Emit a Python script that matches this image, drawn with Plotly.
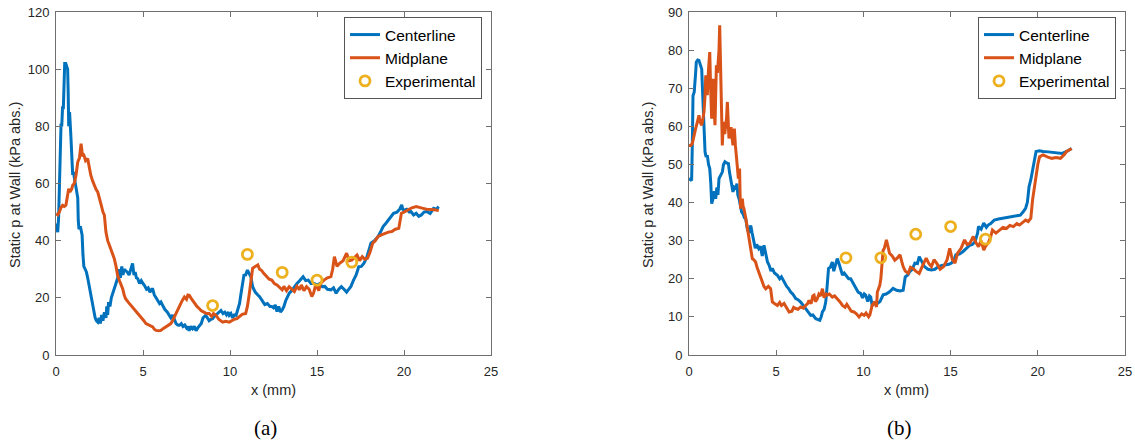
import plotly.graph_objects as go

# ---------------- data: panel (a) ----------------
a_center_x = [0.00,0.05,0.10,0.15,0.20,0.25,0.29,0.33,0.38,0.42,0.46,0.50,0.56,0.62,0.67,0.70,0.73,0.78,0.82,0.86,0.92,0.96,1.00,1.05,1.10,1.18,1.25,1.28,1.32,1.40,1.45,1.50,1.55,1.60,1.68,1.75,1.82,1.88,1.92,2.00,2.10,2.18,2.25,2.32,2.40,2.48,2.55,2.62,2.70,2.78,2.87,2.92,2.97,3.02,3.10,3.18,3.28,3.35,3.45,3.55,3.64,3.70,3.78,3.85,3.92,4.00,4.10,4.20,4.30,4.40,4.48,4.55,4.62,4.70,4.80,4.90,5.00,5.08,5.20,5.30,5.40,5.50,5.56,5.65,5.75,5.85,5.95,6.03,6.15,6.25,6.40,6.50,6.60,6.70,6.80,6.90,7.00,7.10,7.20,7.30,7.40,7.50,7.57,7.65,7.75,7.85,7.95,8.05,8.15,8.24,8.35,8.45,8.55,8.60,8.70,8.80,8.90,9.00,9.10,9.20,9.30,9.40,9.48,9.60,9.70,9.80,9.90,9.96,10.05,10.15,10.25,10.35,10.45,10.55,10.62,10.70,10.80,10.90,11.00,11.10,11.20,11.30,11.45,11.60,11.70,11.85,12.00,12.15,12.30,12.40,12.50,12.60,12.70,12.80,12.90,13.00,13.10,13.20,13.30,13.40,13.55,13.70,13.85,14.00,14.20,14.35,14.50,14.65,14.80,15.00,15.15,15.30,15.45,15.60,15.80,15.95,16.10,16.25,16.40,16.55,16.70,16.80,16.95,17.10,17.25,17.40,17.55,17.70,17.85,18.00,18.10,18.30,18.50,18.65,18.80,18.95,19.10,19.25,19.40,19.60,19.75,19.87,19.93,20.00,20.15,20.30,20.40,20.55,20.70,20.85,21.00,21.15,21.30,21.50,21.70,21.85,22.00]
a_center_y = [46,44,43,48,62,75,81,80,87,86,98,102,102,101,100,92,80,85,77,76,68,63,64,62,60,57,55,47,44,45,43,42,35,31,30,29,27,25,24,21,18.5,16,13,12,11.5,13,11,14,12,15,13,17,14,18.5,17,20,22,23,25,27,30,27,31,28,30,29.6,29,28,30,32,28,29,27,26.7,25,26,25,24.4,23,23.5,22,23,23,21,20,19,18,18.5,17,16,15,14,13,14,12.7,11,10.5,10.4,11,10,10.5,9.5,10,8.5,10,9.2,10,8.5,9.5,10.4,11,13,13.5,13.9,13,12,12.5,12.7,13.5,14,14.5,15,15.6,14.5,15,14,15,13.9,14.5,13,14,13.9,16,18,21,25,27.9,28,29.7,28.5,27.4,23.9,22,21,20.4,19,17.6,18,17,17,16.5,17.5,15.2,17,15,15.8,17,19,20.5,21.6,22.5,23.9,25,26,27.4,26,26.2,25,25.1,24.5,25,23.9,24,23,22.8,23.5,21.6,23,23.9,23,22,22.8,24,26.2,28,30.9,31,32.1,34,37,39.1,40,41.4,43,44.9,46,47.2,48,49.6,50,51,52.5,51,50.7,51,50,50.2,49,49.6,48.5,49,50,50.2,49.5,51.3,51,51.9]

a_mid_x = [0.00,0.10,0.19,0.28,0.38,0.48,0.57,0.65,0.73,0.80,0.90,0.96,1.05,1.15,1.25,1.35,1.44,1.50,1.53,1.60,1.70,1.82,1.90,2.00,2.10,2.20,2.30,2.40,2.50,2.60,2.70,2.78,2.87,2.97,3.07,3.20,3.35,3.45,3.54,3.65,3.75,3.83,3.92,4.00,4.15,4.30,4.45,4.60,4.75,4.90,5.05,5.17,5.35,5.56,5.65,5.75,5.90,6.03,6.15,6.30,6.45,6.60,6.70,6.80,6.95,7.10,7.25,7.38,7.50,7.58,7.66,7.75,7.85,7.95,8.10,8.24,8.35,8.50,8.65,8.80,8.95,9.05,9.20,9.35,9.50,9.58,9.75,9.96,10.10,10.25,10.40,10.55,10.70,10.90,11.00,11.10,11.20,11.30,11.45,11.60,11.70,11.80,11.95,12.10,12.25,12.40,12.55,12.70,12.85,13.00,13.10,13.25,13.40,13.55,13.70,13.85,14.00,14.10,14.25,14.40,14.55,14.70,14.80,14.90,15.00,15.10,15.20,15.40,15.60,15.80,15.90,16.00,16.15,16.30,16.50,16.70,16.85,17.00,17.15,17.30,17.45,17.60,17.75,17.90,18.05,18.20,18.35,18.50,18.70,18.90,19.10,19.30,19.50,19.70,19.78,19.85,20.00,20.20,20.45,20.70,20.90,21.10,21.30,21.50,21.75,22.00]
a_mid_y = [49.4,49,50,51.5,52.4,52,52.4,55,58.2,57,58,59.4,60,62.9,67.5,69,73.9,71,69.9,70,68,68.7,66,62.9,61,59.4,58,57,55,52.4,50,48.9,43,40,38.4,36,33.7,31,27.9,26,24.5,23.2,21,19.7,18.5,17.4,16.5,15.6,14.5,13.3,12,11,10.5,9.8,9,8.6,8.5,8.6,9.2,9.8,10.5,11,12,13.3,15.5,17.4,19,20.3,19.5,21,20.9,20,19,18,17,16.2,15.5,15,14.5,14.5,13.5,14.5,13.9,12.5,12,11.5,11.8,11.5,12,12.5,12.7,13.5,14.2,14.5,17,21,25,30.3,31,31.5,30,29.7,28.5,27.4,26.5,26.2,25,24.5,23.5,22.8,24,22.5,23.9,23,22.2,24,22.8,24.5,22.5,23.9,23,20.5,21.6,24,23.9,22.5,25,26.2,27,27.4,30,34.4,31,32.1,33,35.6,33,33.2,34,35,33,34.4,33.5,33.8,36,39.1,40,41.4,42,42.6,43,43.2,44,44.3,47,49.6,50,50.7,51.5,51.9,51.5,51.3,51,51,50.8,50.5]

a_exp_x = [9, 11, 13, 15, 17]
a_exp_y = [17.3, 35.2, 28.9, 26.2, 32.5]

# ---------------- data: panel (b) ----------------
b_center_x = [0.00,0.08,0.15,0.19,0.23,0.30,0.34,0.38,0.42,0.50,0.57,0.65,0.73,0.77,0.80,0.85,0.92,0.98,1.05,1.12,1.19,1.25,1.30,1.38,1.45,1.53,1.60,1.66,1.72,1.80,1.91,1.98,2.06,2.15,2.26,2.32,2.39,2.45,2.52,2.60,2.68,2.75,2.80,2.87,2.95,3.02,3.10,3.18,3.25,3.35,3.45,3.54,3.62,3.73,3.80,3.88,4.00,4.10,4.20,4.30,4.40,4.50,4.60,4.70,4.78,4.90,5.07,5.20,5.30,5.45,5.60,5.70,5.83,5.95,6.12,6.25,6.40,6.55,6.69,6.80,6.98,7.10,7.27,7.40,7.50,7.58,7.65,7.75,7.84,7.92,8.00,8.10,8.22,8.30,8.40,8.50,8.60,8.70,8.80,8.90,9.00,9.15,9.27,9.40,9.56,9.70,9.85,9.95,10.05,10.13,10.25,10.35,10.42,10.50,10.65,10.80,10.95,11.13,11.30,11.50,11.70,11.90,12.10,12.28,12.40,12.55,12.66,12.80,12.95,13.10,13.20,13.30,13.40,13.50,13.70,13.90,14.10,14.30,14.50,14.70,14.90,15.05,15.20,15.30,15.50,15.70,15.90,16.10,16.25,16.40,16.55,16.60,16.75,16.90,17.05,17.15,17.30,17.50,17.75,18.00,18.30,18.60,18.80,19.00,19.15,19.30,19.40,19.50,19.60,19.70,19.80,19.90,20.10,20.30,20.60,20.90,21.15,21.40,21.65,21.80,21.94]
b_center_y = [46.3,46,45.8,55,68,69,70.8,74,76.9,77.4,77.3,76,75,70,65.5,60,53.3,52,52.4,50,48.9,45,39.7,41,43,41,44,42,46.3,47,48,50,50.7,50.4,50.2,48,46.3,44,42.8,44,43.7,45,42,41,39,37.5,37,36,35.8,33,32,34,32,29.7,28,29,27.9,28.5,26,28.8,26,24.4,23.5,22,22.7,21.5,20.9,20,20.5,19.2,18,17.5,16.5,16,14.8,14.5,13.9,13,12.2,11.5,10.4,10.5,9.5,9.3,9.1,10,11.3,12,13.9,18,22.7,23,24.4,22,23.5,25.3,24,22.2,21,21.5,20.9,20,20,19,17.8,16.5,16.1,15,16,15.7,14,15.5,15.2,13,13.5,13.5,14,15.8,16,16.6,17.5,17,16.8,17,20.5,21,21.9,22.5,24.1,24,25.8,25,24,23.2,22.5,22.3,22.5,23.2,23.5,23.6,23.8,24.1,25,26.3,26.5,27.1,28,28.8,29,29.7,32,33.7,33,34.6,33.5,34.1,34.5,35.4,35.7,35.9,36,36.3,36.5,36.7,37.5,38.5,40,44.2,46,48.5,51,53.4,53.6,53.4,53.3,53.2,53,52.9,53.4,53.8,54.2]

b_mid_x = [0.00,0.10,0.19,0.28,0.38,0.47,0.57,0.65,0.73,0.80,0.86,0.92,0.96,1.00,1.05,1.12,1.19,1.24,1.30,1.34,1.38,1.44,1.49,1.53,1.57,1.63,1.68,1.72,1.76,1.80,1.84,1.88,1.91,1.96,2.00,2.05,2.10,2.15,2.20,2.25,2.29,2.35,2.41,2.47,2.52,2.56,2.60,2.66,2.72,2.78,2.83,2.90,2.93,2.96,3.01,3.06,3.10,3.15,3.25,3.35,3.45,3.54,3.63,3.72,3.82,3.90,4.00,4.10,4.20,4.30,4.40,4.55,4.68,4.73,4.78,4.90,5.07,5.20,5.30,5.45,5.60,5.74,5.90,6.00,6.12,6.25,6.40,6.55,6.69,6.80,6.88,7.00,7.10,7.17,7.25,7.36,7.45,7.55,7.65,7.75,7.85,7.93,8.05,8.22,8.35,8.50,8.65,8.80,8.95,9.05,9.18,9.30,9.46,9.60,9.75,9.90,10.04,10.15,10.30,10.37,10.50,10.65,10.75,10.80,10.94,11.00,11.13,11.20,11.32,11.42,11.50,11.65,11.80,11.95,12.10,12.20,12.28,12.40,12.57,12.70,12.85,13.00,13.20,13.40,13.60,13.75,13.90,14.05,14.20,14.40,14.60,14.80,14.95,15.10,15.25,15.40,15.60,15.80,15.95,16.10,16.30,16.45,16.60,16.75,16.90,17.00,17.15,17.30,17.40,17.60,17.80,18.00,18.20,18.40,18.60,18.80,18.95,19.15,19.30,19.45,19.60,19.70,19.80,19.90,20.00,20.10,20.30,20.55,20.80,21.05,21.30,21.50,21.65,21.80,21.94]
b_mid_y = [55,55,55.5,57,59.4,61,62.9,61,60.3,62,63.8,68,73.4,70,68.2,75,79.5,70,62,68,72.5,65,60.3,68,76,74,76.9,80,86.5,78,68.2,60,55,60,61.2,58,59.4,62,66.4,60,56.8,58,59.8,57,55,57,59.4,55,50.7,49,46.3,48.9,42,38.4,40,41,39,38.4,36,33.2,31,28.8,25.3,25,24.4,23,21.8,20.5,19.2,18,17.4,18,17.4,15,13.9,13.5,13,13.8,13,13.5,12.5,11.3,11.5,12.5,12.2,12,12.6,12.3,13,13.5,14.3,13.5,15.5,15.7,14,14.8,16,15.5,17.4,15,16.2,15.7,16,15.2,15.5,14.8,14,13,12.5,13.3,12.2,11.5,11.3,10.8,10,10.8,10.4,11,10,10.5,13,14,12.6,16.5,18.3,20,27.5,28,30.2,28,26.7,26,24.9,25.5,26.3,24.5,23.2,22,21.4,23,22.7,22,21.4,23.5,25.4,24,23.2,25,24.1,22.5,23.2,25,28,25,24.1,26.7,28,30.2,29,29.3,31.1,29.5,28.4,30,27.5,28.5,29.3,31,32.8,32,32.8,33.5,33.2,34,33.7,34.5,34.1,34.8,35.4,35,35.9,40.7,44,46.8,50,52,52.5,52,51.6,51.8,51.6,52.5,53.4,53.8,54.2]

b_exp_x = [9, 11, 13, 15, 17]
b_exp_y = [25.5, 25.5, 31.7, 33.7, 30.4]

Y_TITLE = "Static p at Wall (kPa abs.)"
X_TITLE = "x (mm)"
PANEL_LABELS = ["(a)", "(b)"]

# ---------------- styling ----------------
BLUE = "#0072BD"
ORANGE = "#D95319"
YELLOW = "#EDB120"
AXC = "#707070"
TXT = "#262626"
FONT = "Liberation Sans, Arial, sans-serif"
SERIF = "Liberation Serif, Times New Roman, serif"
W, H = 1135, 444

def px_x(p):
    return p / W

def px_y(p):
    return 1 - p / H

fig = go.Figure()

panels = [
    (a_center_x, a_center_y, a_mid_x, a_mid_y, a_exp_x, a_exp_y, "x", "y", "legend"),
    (b_center_x, b_center_y, b_mid_x, b_mid_y, b_exp_x, b_exp_y, "x2", "y2", "legend2"),
]
for cx, cy, mx, my, ex, ey, xa, ya, lg in panels:
    fig.add_trace(go.Scatter(x=cx, y=cy, mode="lines", name="Centerline",
                             line=dict(color=BLUE, width=3), xaxis=xa, yaxis=ya, legend=lg))
    fig.add_trace(go.Scatter(x=mx, y=my, mode="lines", name="Midplane",
                             line=dict(color=ORANGE, width=3), xaxis=xa, yaxis=ya, legend=lg))
    fig.add_trace(go.Scatter(x=ex, y=ey, mode="markers", name="Experimental",
                             marker=dict(symbol="circle-open", size=10, color=YELLOW,
                                         line=dict(width=2.8, color=YELLOW)),
                             xaxis=xa, yaxis=ya, legend=lg))

common_x = dict(range=[0, 25], dtick=5, ticks="inside", ticklen=5, tickcolor=AXC,
                showline=True, linecolor=AXC, linewidth=1, mirror="ticks",
                showgrid=False, zeroline=False, automargin=False, ticklabelstandoff=4,
                tickfont=dict(family=FONT, size=13, color=TXT))
common_y = dict(ticks="inside", ticklen=5, tickcolor=AXC,
                showline=True, linecolor=AXC, linewidth=1, mirror="ticks",
                showgrid=False, zeroline=False, automargin=False, ticklabelstandoff=3,
                tickfont=dict(family=FONT, size=13, color=TXT))

leg_common = dict(bgcolor="white", bordercolor="#555555", borderwidth=1,
                  font=dict(family=FONT, size=15.5, color="black"),
                  xanchor="right", yanchor="top", tracegroupgap=0,
                  xref="paper", yref="paper")

annotations = []
for (x0, x1), lab_x, lab in zip([(56, 491), (689, 1125)], [265, 900], PANEL_LABELS):
    cxp = (x0 + x1) / 2
    annotations.append(dict(text=X_TITLE, x=px_x(cxp), y=px_y(390), xref="paper", yref="paper",
                            xanchor="center", yanchor="middle", showarrow=False,
                            font=dict(family=FONT, size=14.5, color=TXT)))
    annotations.append(dict(text=Y_TITLE, x=px_x(x0 - 41), y=px_y(185), xref="paper", yref="paper",
                            xanchor="center", yanchor="middle", showarrow=False, textangle=-90,
                            font=dict(family=FONT, size=14.5, color=TXT)))
    annotations.append(dict(text=lab, x=px_x(lab_x), y=px_y(428), xref="paper", yref="paper",
                            xanchor="center", yanchor="middle", showarrow=False,
                            font=dict(family=SERIF, size=21, color="black")))

fig.update_layout(
    width=W, height=H,
    margin=dict(l=0, r=0, t=0, b=0, autoexpand=False),
    paper_bgcolor="white", plot_bgcolor="white",
    showlegend=True,
    xaxis=dict(domain=[px_x(56), px_x(491)], anchor="y", **common_x),
    yaxis=dict(domain=[px_y(355), px_y(12)], anchor="x", range=[0, 120], dtick=20, **common_y),
    xaxis2=dict(domain=[px_x(689), px_x(1125)], anchor="y2", **common_x),
    yaxis2=dict(domain=[px_y(355), px_y(12)], anchor="x2", range=[0, 90], dtick=10, **common_y),
    legend=dict(x=px_x(482), y=px_y(17), **leg_common),
    legend2=dict(x=px_x(1116), y=px_y(17), **leg_common),
    annotations=annotations,
)

fig.write_html("out.html")
